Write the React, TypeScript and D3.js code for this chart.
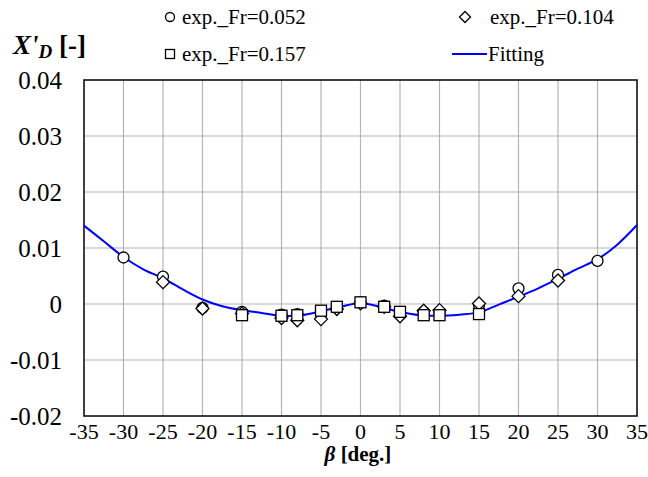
import React from "react";
import * as d3 from "d3";

const betaFr052 = [-30, -25, -20, -15, -10, -8, -5, -3, 0, 3, 5, 8, 10, 15, 20, 25, 30];
const valFr052 = [0.0083, 0.0049, -0.0007, -0.0014, -0.0019, -0.0018, -0.0015, -0.0006, 0.0003, -0.0003, -0.0016, -0.0014, -0.0016, -0.0002, 0.0028, 0.0052, 0.0077];

const betaFr104 = [-25, -20, -15, -10, -8, -5, -3, 0, 3, 5, 8, 10, 15, 20, 25];
const valFr104 = [0.0039, -0.0008, -0.0017, -0.0025, -0.0029, -0.0027, -0.0009, 0.0001, -0.0005, -0.0022, -0.0012, -0.0011, 0.0001, 0.0014, 0.0042];

const betaFr157 = [-15, -10, -8, -5, -3, 0, 3, 5, 8, 10, 15];
const valFr157 = [-0.002, -0.0021, -0.002, -0.0012, -0.0005, 0.0003, -0.0005, -0.0014, -0.002, -0.002, -0.0018];

const betaFit = [-35, -32.5, -30, -27.5, -25, -22.5, -20, -17.5, -15, -12.5, -10, -7.5, -5, -2.5, 0, 2.5, 5, 7.5, 10, 12.5, 15, 17.5, 20, 22.5, 25, 27.5, 30, 32.5, 35];
const valFit = [0.014, 0.0112, 0.0084, 0.0062, 0.0046, 0.0026, 0.0008, -0.0004, -0.0011, -0.0016, -0.0021, -0.002, -0.0013, -0.0005, 0.0002, -0.0005, -0.0014, -0.002, -0.0021, -0.0019, -0.0015, -0.0001, 0.0013, 0.0028, 0.0045, 0.0063, 0.008, 0.0106, 0.0141];

const xTicks = [-35, -30, -25, -20, -15, -10, -5, 0, 5, 10, 15, 20, 25, 30, 35];
const yTicks = [-0.02, -0.01, 0, 0.01, 0.02, 0.03, 0.04];
const yTickLabels = ["-0.02", "-0.01", "0", "0.01", "0.02", "0.03", "0.04"];

const W = 648, H = 477;
const L = 84, R = 637, T = 80, B = 416;
const FONT = '"Liberation Serif", "Times New Roman", Times, serif';
const ts = { fontFamily: FONT };

export default function App() {
  const x = d3.scaleLinear().domain([-35, 35]).range([L, R]);
  const y = d3.scaleLinear().domain([-0.02, 0.04]).range([B, T]);
  const line = d3
    .line<number>()
    .x((_, i) => x(betaFit[i]))
    .y((v) => y(v))
    .curve(d3.curveCatmullRom.alpha(0.5));

  const circ = (cx: number, cy: number, r: number, k: string) => (
    <circle key={k} cx={cx} cy={cy} r={r} fill="#fff" stroke="#000" strokeWidth={1.3} />
  );
  const diam = (cx: number, cy: number, r: number, k: string) => (
    <path key={k} d={`M${cx},${cy - r}L${cx + r},${cy}L${cx},${cy + r}L${cx - r},${cy}Z`} fill="#fff" stroke="#000" strokeWidth={1.3} />
  );
  const sq = (cx: number, cy: number, s: number, k: string) => (
    <rect key={k} x={cx - s / 2} y={cy - s / 2} width={s} height={s} fill="#fff" stroke="#000" strokeWidth={1.3} />
  );

  return (
    <svg width={W} height={H} style={{ position: "absolute", left: 0, top: 0, background: "#fff" }}>
      <rect x={0} y={0} width={W} height={H} fill="#fff" />
      {xTicks.slice(1, -1).map((t) => (
        <line key={"gx" + t} x1={x(t)} x2={x(t)} y1={T} y2={B} stroke="#b4b4b4" strokeWidth={1.2} />
      ))}
      {yTicks.slice(1, -1).map((t) => (
        <line key={"gy" + t} x1={L} x2={R} y1={y(t)} y2={y(t)} stroke="#b4b4b4" strokeWidth={1.2} />
      ))}
      <rect x={L} y={T} width={R - L} height={B - T} fill="none" stroke="#000" strokeWidth={1.5} />
      <path d={line(valFit) || ""} fill="none" stroke="#0000ff" strokeWidth={2} />
      {valFr052.map((v, i) => circ(x(betaFr052[i]), y(v), 5.5, "c" + i))}
      {valFr104.map((v, i) => diam(x(betaFr104[i]), y(v), 6.5, "d" + i))}
      {valFr157.map((v, i) => sq(x(betaFr157[i]), y(v), 11, "s" + i))}
      {xTicks.map((t) => (
        <text key={"xt" + t} style={ts} x={x(t)} y={439} fontSize={22} textAnchor="middle">{t}</text>
      ))}
      {yTicks.map((t, i) => (
        <text key={"yt" + t} style={ts} x={62} y={y(t) + 9} fontSize={25} textAnchor="end">{yTickLabels[i]}</text>
      ))}
      <text style={ts} x={358} y={461} fontSize={21} fontWeight="bold" textAnchor="middle">
        <tspan fontStyle="italic">β</tspan> [deg.]
      </text>
      <text style={ts} x={13} y={54} fontSize={27} fontWeight="bold">
        <tspan fontStyle="italic">X'</tspan>
        <tspan fontStyle="italic" fontSize={19} dy={4}>D</tspan>
        <tspan dy={-4}> [-]</tspan>
      </text>
      {circ(170, 17, 4.5, "lc")}
      <text style={ts} x={182} y={24} fontSize={21}>exp._Fr=0.052</text>
      {diam(465, 17, 5.5, "ld")}
      <text style={ts} x={490} y={24} fontSize={21}>exp._Fr=0.104</text>
      {sq(170, 54, 9, "ls")}
      <text style={ts} x={182} y={61} fontSize={21}>exp._Fr=0.157</text>
      <line x1={452} x2={487} y1={54} y2={54} stroke="#0000ff" strokeWidth={2} />
      <text style={ts} x={488} y={61} fontSize={21}>Fitting</text>
    </svg>
  );
}
